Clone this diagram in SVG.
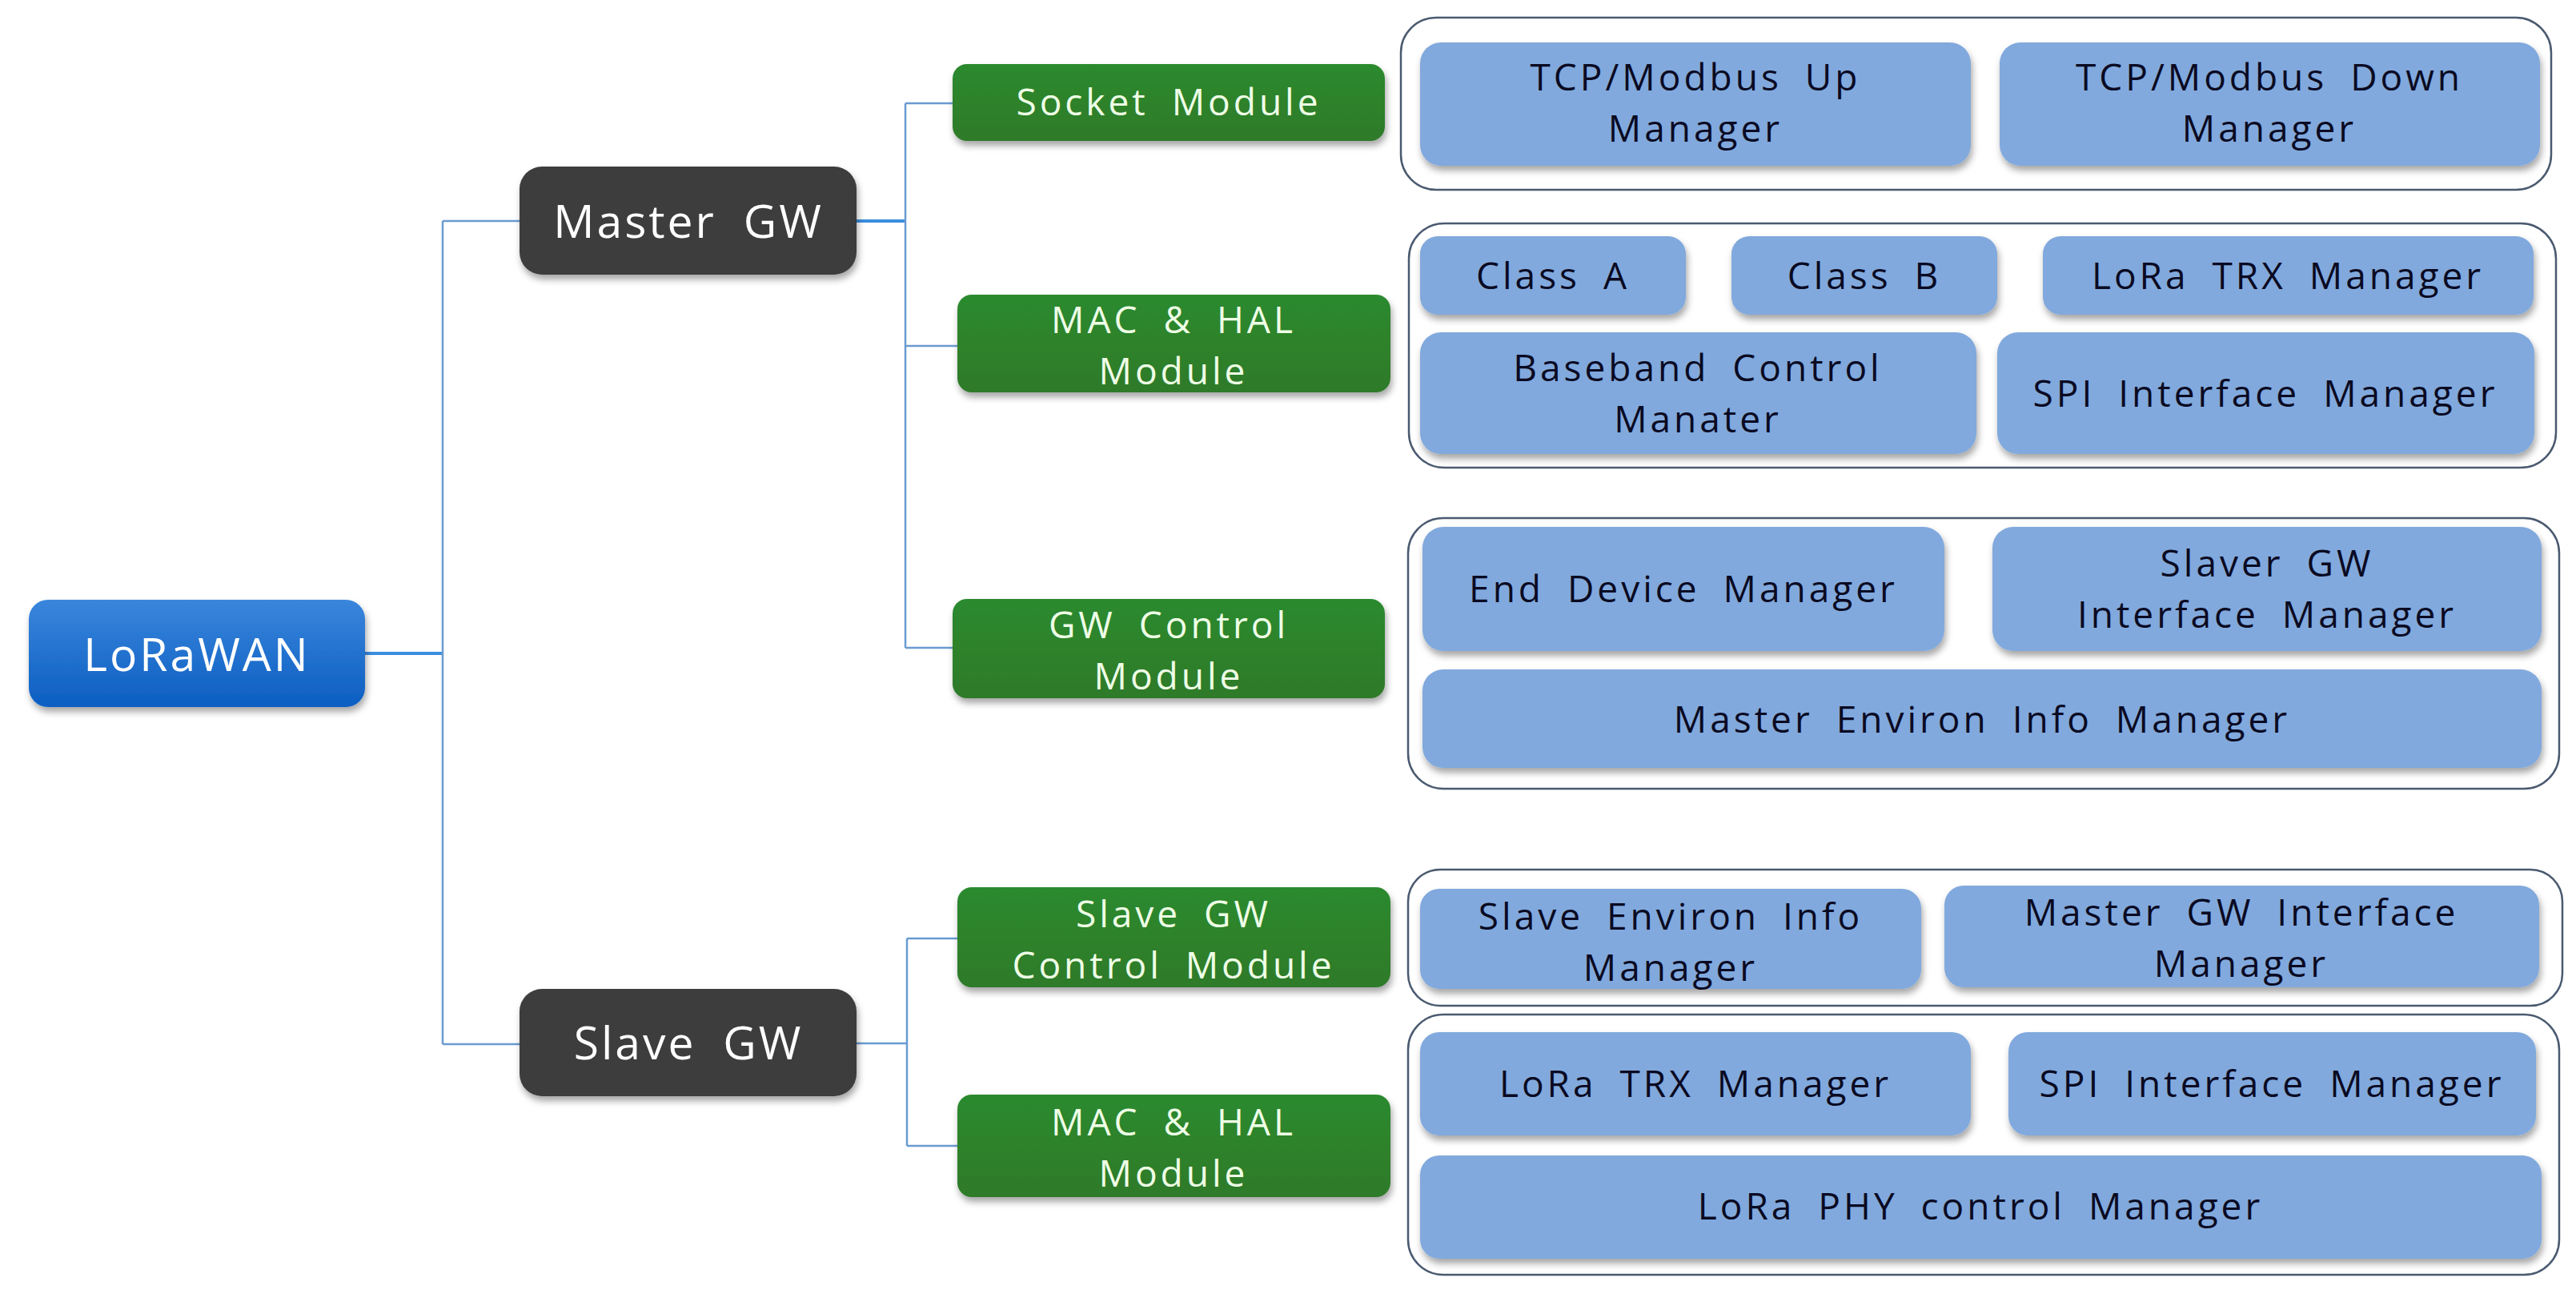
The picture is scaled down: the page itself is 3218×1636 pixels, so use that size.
<svg xmlns="http://www.w3.org/2000/svg" width="3218" height="1636" viewBox="0 0 3218 1636">
<defs>
<filter id="sh" x="-5%" y="-10%" width="110%" height="130%">
<feDropShadow dx="2" dy="6" stdDeviation="4" flood-color="#000" flood-opacity="0.35"/>
</filter>
<linearGradient id="gBlue" x1="0" y1="0" x2="0" y2="1">
<stop offset="0" stop-color="#3A86DC"/>
<stop offset="1" stop-color="#0C5EC2"/>
</linearGradient>
<linearGradient id="gGreen" x1="0" y1="0" x2="0" y2="1">
<stop offset="0" stop-color="#2C8A2E"/>
<stop offset="1" stop-color="#2E7A29"/>
</linearGradient>
</defs>
<style>
.root{fill:url(#gBlue);filter:url(#sh)}
.gw{fill:#3D3D3D;filter:url(#sh)}
.mod{fill:url(#gGreen);filter:url(#sh)}
.box{fill:none;stroke:#4A5A70;stroke-width:2.5}
.sub{fill:#81A9DD;filter:url(#sh)}
.tn{font-family:"Open Sans","Noto Sans",sans-serif;font-size:57px;fill:#FFFFFF;text-anchor:middle;letter-spacing:3px;word-spacing:16px}
.tm{font-family:"Open Sans","Noto Sans",sans-serif;font-size:46px;fill:#EEFFE6;text-anchor:middle;letter-spacing:4px;word-spacing:13px}
.ts{font-family:"Open Sans","Noto Sans",sans-serif;font-size:46px;fill:#0A0A22;text-anchor:middle;letter-spacing:4px;word-spacing:13px}
.ln{fill:none;stroke:#6A9BD1;stroke-width:2.5}
.lnb{fill:none;stroke:#3A8EE0;stroke-width:4}
</style>

<g id="connectors">
<path class="lnb" d="M456 816 H553"/>
<path class="ln" d="M553 276 V1304 M553 276 H649 M553 1304 H649"/>
<path class="lnb" d="M1070 276 H1131"/>
<path class="ln" d="M1131 129 V809 M1131 129 H1190 M1131 432 H1196 M1131 809 H1190"/>
<path class="ln" d="M1070 1303 H1133 M1133 1172 V1431 M1133 1172 H1196 M1133 1431 H1196"/>
</g>

<g id="lorawan">
<rect class="root" x="36" y="749" width="420" height="134" rx="24"/>
<text class="tn" x="246" y="838">LoRaWAN</text>
</g>

<g id="master-gw">
<rect class="gw" x="649" y="208" width="421" height="135" rx="28"/>
<text class="tn" x="860" y="297">Master GW</text>
</g>

<g id="slave-gw">
<rect class="gw" x="649" y="1235" width="421" height="134" rx="28"/>
<text class="tn" x="860" y="1323">Slave GW</text>
</g>

<g id="socket-module">
<rect class="mod" x="1190" y="80" width="540" height="96" rx="18"/>
<text class="tm" x="1460" y="144">Socket Module</text>
</g>

<g id="mac-hal-master">
<rect class="mod" x="1196" y="368" width="541" height="122" rx="18"/>
<text class="tm" x="1466" y="416">MAC &amp; HAL<tspan x="1466" dy="64">Module</tspan></text>
</g>

<g id="gw-control-module">
<rect class="mod" x="1190" y="748" width="540" height="124" rx="18"/>
<text class="tm" x="1460" y="797">GW Control<tspan x="1460" dy="64">Module</tspan></text>
</g>

<g id="slave-gw-control-module">
<rect class="mod" x="1196" y="1108" width="541" height="125" rx="18"/>
<text class="tm" x="1466" y="1158">Slave GW<tspan x="1466" dy="64">Control Module</tspan></text>
</g>

<g id="mac-hal-slave">
<rect class="mod" x="1196" y="1367" width="541" height="128" rx="18"/>
<text class="tm" x="1466" y="1418">MAC &amp; HAL<tspan x="1466" dy="64">Module</tspan></text>
</g>

<g id="socket-group">
<rect class="box" x="1750" y="22" width="1437" height="215" rx="44"/>
<g id="tcp-up">
<rect class="sub" x="1774" y="53" width="688" height="154" rx="26"/>
<text class="ts" x="2118" y="113">TCP/Modbus Up<tspan x="2118" dy="64">Manager</tspan></text>
</g>
<g id="tcp-down">
<rect class="sub" x="2498" y="53" width="675" height="154" rx="26"/>
<text class="ts" x="2835" y="113">TCP/Modbus Down<tspan x="2835" dy="64">Manager</tspan></text>
</g>
</g>

<g id="mac-hal-master-group">
<rect class="box" x="1760" y="279" width="1433" height="305" rx="44"/>
<g id="class-a">
<rect class="sub" x="1774" y="295" width="332" height="98" rx="22"/>
<text class="ts" x="1940" y="361">Class A</text>
</g>
<g id="class-b">
<rect class="sub" x="2163" y="295" width="332" height="98" rx="22"/>
<text class="ts" x="2329" y="361">Class B</text>
</g>
<g id="lora-trx-master">
<rect class="sub" x="2552" y="295" width="613" height="98" rx="22"/>
<text class="ts" x="2858" y="361">LoRa TRX Manager</text>
</g>
<g id="baseband">
<rect class="sub" x="1774" y="415" width="695" height="152" rx="26"/>
<text class="ts" x="2121" y="476">Baseband Control<tspan x="2121" dy="64">Manater</tspan></text>
</g>
<g id="spi-master">
<rect class="sub" x="2495" y="415" width="671" height="152" rx="26"/>
<text class="ts" x="2830" y="508">SPI Interface Manager</text>
</g>
</g>

<g id="gw-control-group">
<rect class="box" x="1759" y="647" width="1438" height="338" rx="44"/>
<g id="end-device">
<rect class="sub" x="1777" y="658" width="652" height="155" rx="26"/>
<text class="ts" x="2103" y="752">End Device Manager</text>
</g>
<g id="slaver-gw-if">
<rect class="sub" x="2489" y="658" width="686" height="155" rx="26"/>
<text class="ts" x="2832" y="720">Slaver GW<tspan x="2832" dy="64">Interface Manager</tspan></text>
</g>
<g id="master-env">
<rect class="sub" x="1777" y="836" width="1398" height="123" rx="26"/>
<text class="ts" x="2476" y="915">Master Environ Info Manager</text>
</g>
</g>

<g id="slave-control-group">
<rect class="box" x="1759" y="1086" width="1442" height="170" rx="40"/>
<g id="slave-env">
<rect class="sub" x="1774" y="1110" width="626" height="125" rx="24"/>
<text class="ts" x="2087" y="1161">Slave Environ Info<tspan x="2087" dy="64">Manager</tspan></text>
</g>
<g id="master-gw-if">
<rect class="sub" x="2429" y="1106" width="743" height="127" rx="24"/>
<text class="ts" x="2800" y="1156">Master GW Interface<tspan x="2800" dy="64">Manager</tspan></text>
</g>
</g>

<g id="mac-hal-slave-group">
<rect class="box" x="1759" y="1267" width="1438" height="325" rx="44"/>
<g id="lora-trx-slave">
<rect class="sub" x="1774" y="1289" width="688" height="129" rx="24"/>
<text class="ts" x="2118" y="1370">LoRa TRX Manager</text>
</g>
<g id="spi-slave">
<rect class="sub" x="2509" y="1289" width="659" height="129" rx="24"/>
<text class="ts" x="2838" y="1370">SPI Interface Manager</text>
</g>
<g id="lora-phy">
<rect class="sub" x="1774" y="1443" width="1401" height="129" rx="24"/>
<text class="ts" x="2474" y="1523">LoRa PHY control Manager</text>
</g>
</g>
</svg>
